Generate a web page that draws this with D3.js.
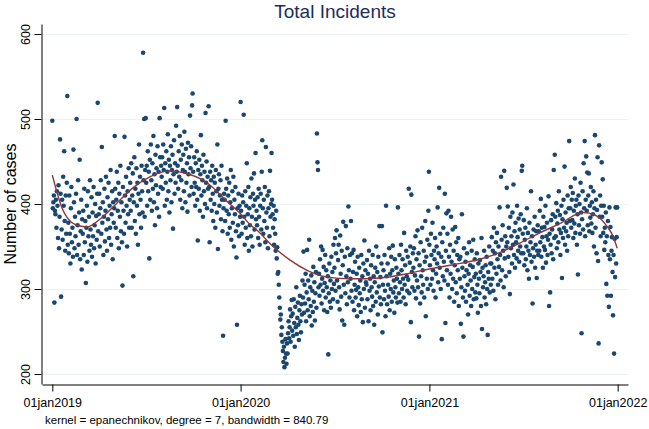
<!DOCTYPE html>
<html>
<head>
<meta charset="utf-8">
<script src="https://cdn.jsdelivr.net/npm/d3@7"></script>
<style>
  body { margin: 0; background: #fff; }
  svg { display: block; font-family: "Liberation Sans", Arial, sans-serif; }
</style>
</head>
<body>
<svg id="chart"></svg>
<script>
// daily counts, one inner array per month
var counts2019 = [
  [498,395,402,410,284,392,388,405,372,415,398,360,422,348,385,476,412,291,370,405,358,432,398,462,380,345,410,365,425,527,352],
  [378,342,410,365,330,395,420,355,372,338,464,402,348,385,362,412,500,340,375,428,352,390,452,335,368,405,323,382],
  [365,392,340,418,355,380,307,372,398,332,415,362,385,345,428,370,352,408,338,390,362,420,348,375,400,330,386,358,412,519,368],
  [388,412,350,395,428,365,467,378,402,340,385,418,356,392,432,370,345,408,382,425,360,398,372,440,352,388,415,335,402,378],
  [395,480,418,372,405,438,360,392,425,348,412,385,445,368,402,355,304,420,392,365,479,410,378,432,398,350,415,388,442,372,405],
  [425,392,448,372,410,436,315,402,455,380,418,365,442,398,425,352,412,470,388,432,405,372,445,415,390,578,428,500,385,440],
  [501,425,445,398,462,415,438,336,452,405,470,428,392,448,418,480,402,435,375,458,422,442,395,468,412,438,385,501,455,420,445],
  [432,455,418,470,440,513,398,448,425,462,405,438,482,415,452,390,445,428,468,402,440,458,371,435,475,412,448,425,492,438,514],
  [445,418,462,432,480,405,452,428,470,395,440,458,415,485,438,402,465,425,448,391,472,435,455,410,504,442,468,420,516,530],
  [438,412,455,425,398,448,420,462,405,357,440,418,452,392,435,481,410,445,428,385,458,415,438,400,507,425,450,395,432,418,515],
  [420,355,438,405,428,392,445,412,380,432,400,425,372,440,415,390,470,347,418,435,398,410,428,382,445,405,368,245,395,412],
  [405,380,498,418,392,430,365,410,388,425,372,402,440,358,395,415,378,432,350,405,388,420,368,337,258,395,375,412,362,398,385]
];
var counts2020 = [
  [520,392,365,410,378,402,505,385,352,415,372,398,448,360,388,420,345,395,375,408,362,430,385,350,412,398,436,370,405,460,382],
  [392,375,408,360,418,385,352,398,412,370,438,475,395,365,405,380,420,355,467,390,372,410,348,395,415,362,439,385,400],
  [460,405,388,372,398,352,382,365,345,392,336,349,318,320,305,290,278,264,270,246,255,238,227,214,232,208,219,241,224,212,236],
  [224,248,262,242,255,276,238,268,287,251,271,245,288,260,232,279,255,302,247,266,284,258,240,275,292,262,249,282,270,310],
  [290,344,272,305,283,318,262,296,346,275,310,288,358,268,302,280,316,257,298,273,326,285,308,263,295,320,278,483,449,440,302],
  [318,292,335,305,350,283,312,346,298,326,275,307,340,290,322,302,273,315,223,295,330,285,310,278,338,300,320,288,352,306],
  [325,360,298,342,369,310,285,334,352,302,276,363,318,291,345,263,328,379,305,258,338,295,374,315,282,348,308,397,322,290,340],
  [312,380,298,342,285,320,346,275,305,332,290,299,318,268,338,302,281,325,295,310,273,340,288,315,261,330,300,357,278,322,308],
  [305,334,288,318,262,345,298,312,275,328,302,291,340,280,315,258,308,325,285,350,296,320,270,338,303,374,290,314,282,330],
  [374,249,305,322,288,340,298,268,398,315,282,330,305,291,348,275,318,300,338,285,322,351,296,310,272,335,302,290,325,312,284],
  [396,318,295,340,308,285,352,322,300,335,312,290,366,305,328,282,345,315,298,338,311,418,295,331,350,261,411,320,302,342],
  [325,348,298,316,362,289,335,310,369,302,342,244,328,283,355,315,296,372,322,305,345,290,332,380,268,338,312,358,300,392,438]
];
var counts2021 = [
  [352,328,305,365,340,312,378,322,298,345,335,360,290,318,350,330,396,308,342,419,325,365,300,338,241,355,315,372,332,310,412],
  [260,345,389,322,365,305,392,338,290,352,318,385,332,300,370,312,345,285,328,373,308,355,295,340,322,360,280,335],
  [312,338,259,302,388,325,290,244,348,315,298,332,285,322,342,305,270,318,355,292,328,310,280,345,300,326,358,288,314,335,296],
  [318,289,342,305,272,330,312,295,334,320,280,360,253,325,302,315,345,290,308,328,282,338,300,246,320,312,350,296,330,305],
  [330,361,312,345,298,372,325,342,288,355,318,366,335,305,350,326,396,340,310,432,358,322,375,345,302,439,336,362,315,350,419],
  [355,397,338,372,320,294,385,348,362,330,390,352,423,340,368,325,378,355,336,398,361,345,383,332,370,350,388,342,439,445],
  [365,342,381,328,358,372,335,350,395,322,366,345,312,378,340,355,415,332,362,283,348,370,338,385,325,352,368,313,345,375,340],
  [368,345,392,355,406,338,372,361,325,385,350,373,346,398,331,362,378,340,358,409,280,365,296,352,381,342,370,388,335,440,360],
  [458,385,362,401,348,377,392,355,415,370,387,340,366,398,313,382,360,405,372,444,352,390,368,378,345,410,362,395,474,380],
  [395,420,372,405,381,413,360,392,377,430,366,398,405,352,388,317,410,375,400,365,425,390,248,382,415,370,448,395,474,362,405],
  [456,392,437,375,410,436,368,398,384,420,377,402,366,388,415,350,395,481,372,405,342,393,455,333,236,469,385,410,362,398],
  [449,385,429,366,398,346,372,355,390,306,362,292,380,340,279,396,335,373,292,345,361,320,269,340,224,359,314,396,330,361,396]
];

// local polynomial smooth (days since 01jan2019)
var smoothDays   = [0, 19, 44, 67, 92, 125, 156, 189, 228, 253, 300, 339, 364, 383, 397, 428, 461, 494, 533, 577, 635, 688, 726, 771, 829, 868, 906, 945, 984, 1029, 1052, 1075, 1087, 1095];
var smoothValues = [434, 395, 376, 373, 382, 401, 419, 432, 439, 437, 425, 403, 389, 376, 369, 350, 334, 322, 314, 312, 313, 318, 323, 328, 335, 343, 354, 366, 377, 390, 387, 374, 362, 348];

var yTicks = [200, 300, 400, 500, 600];
var xTickDates = ["2019-01-01", "2020-01-01", "2021-01-01", "2022-01-01"];
var xTickLabels = ["01jan2019", "01jan2020", "01jan2021", "01jan2022"];

var width = 649, height = 429;
var svg = d3.select("#chart").attr("width", width).attr("height", height);

var points = [];
[[2019, counts2019], [2020, counts2020], [2021, counts2021]].forEach(function(yr){
  yr[1].forEach(function(vals, m){
    vals.forEach(function(v, i){
      points.push({date: new Date(Date.UTC(yr[0], m, i + 1)), value: v});
    });
  });
});

var start = new Date(Date.UTC(2019, 0, 1));
var smooth = smoothDays.map(function(d, i){
  return {date: d3.utcDay.offset(start, d), value: smoothValues[i]};
});

var x = d3.scaleUtc()
  .domain([new Date(Date.UTC(2018, 11, 12)), new Date(Date.UTC(2022, 0, 21))])
  .range([42, 628]);
var y = d3.scaleLinear().domain([188.2, 611.8]).range([384, 24]);

// grid
svg.append("g").selectAll("line")
  .data(yTicks).enter().append("line")
  .attr("x1", 42).attr("x2", 628)
  .attr("y1", function(d){ return Math.round(y(d)) + 0.5; })
  .attr("y2", function(d){ return Math.round(y(d)) + 0.5; })
  .attr("stroke", "#eaf2f3").attr("stroke-width", 1.2);

// dots
svg.append("g").selectAll("circle")
  .data(points).enter().append("circle")
  .attr("cx", function(d){ return x(d.date); })
  .attr("cy", function(d){ return y(d.value); })
  .attr("r", 2.3)
  .attr("fill", "#1a476f");

// smooth line
svg.append("path")
  .datum(smooth)
  .attr("fill", "none")
  .attr("stroke", "#90353b")
  .attr("stroke-width", 1.4)
  .attr("d", d3.line()
    .x(function(d){ return x(d.date); })
    .y(function(d){ return y(d.value); })
    .curve(d3.curveMonotoneX));

// axes
var parseDay = d3.utcParse("%Y-%m-%d");
var xAxis = d3.axisBottom(x)
  .tickValues(xTickDates.map(parseDay))
  .tickFormat(function(d, i){ return xTickLabels[i]; })
  .tickSize(7).tickSizeOuter(0).tickPadding(6.5);

var gx = svg.append("g").attr("transform", "translate(0,384.5)").call(xAxis);
gx.selectAll("text").attr("font-size", 12.5).attr("fill", "#000").attr("font-family", "Liberation Sans, Arial, sans-serif");
gx.selectAll("line, path").attr("stroke", "#000");

var yAxis = d3.axisLeft(y).tickValues(yTicks).tickSize(7).tickSizeOuter(0);
var gy = svg.append("g").attr("transform", "translate(41.5,0)").call(yAxis);
gy.selectAll("line, path").attr("stroke", "#000");
gy.selectAll("text")
  .attr("x", null).attr("dy", null)
  .attr("text-anchor", "middle")
  .attr("transform", "translate(-11.5,0) rotate(-90)")
  .attr("font-size", 12.5).attr("fill", "#000")
  .attr("font-family", "Liberation Sans, Arial, sans-serif");

// titles
svg.append("text")
  .attr("x", 335).attr("y", 17.5)
  .attr("text-anchor", "middle")
  .attr("font-size", 19)
  .attr("fill", "#1b2d5e")
  .text("Total Incidents");

svg.append("text")
  .attr("transform", "translate(16,204) rotate(-90)")
  .attr("text-anchor", "middle")
  .attr("font-size", 16)
  .attr("fill", "#000")
  .text("Number of cases");

svg.append("text")
  .attr("x", 45).attr("y", 424)
  .attr("font-size", 11.5)
  .attr("fill", "#000")
  .text("kernel = epanechnikov, degree = 7, bandwidth = 840.79");
</script>
</body>
</html>
